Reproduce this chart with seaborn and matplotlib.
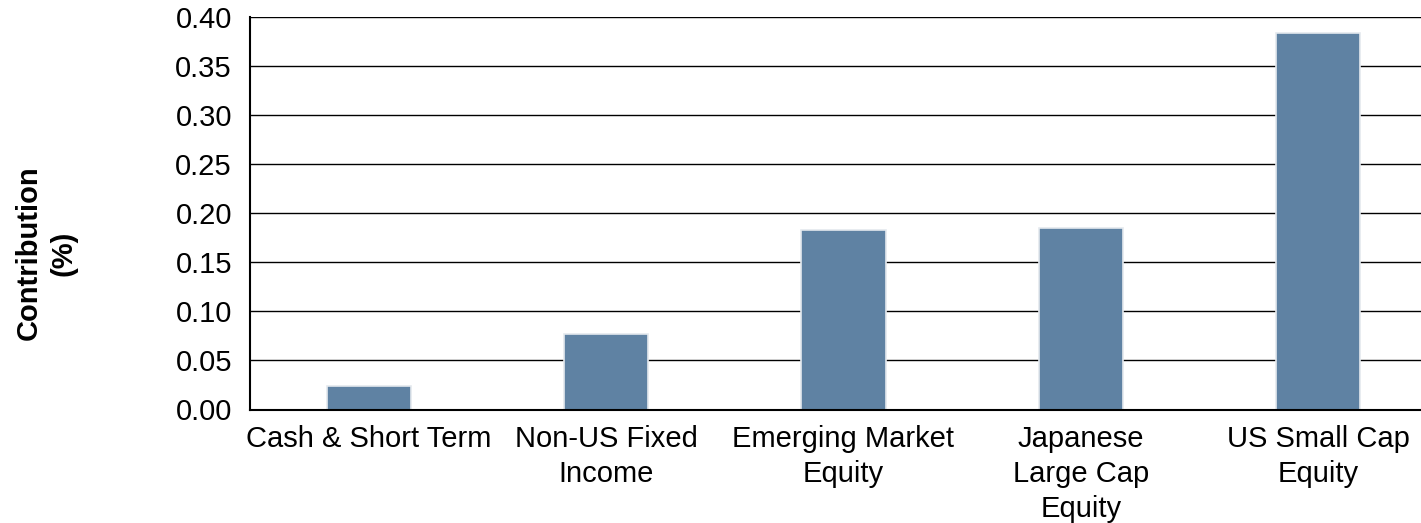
import matplotlib
matplotlib.use("Agg")
import matplotlib.pyplot as plt
import seaborn as sns
import pandas as pd

categories = ["Cash & Short Term", "Non-US Fixed\nIncome", "Emerging Market\nEquity",
              "Japanese\nLarge Cap\nEquity", "US Small Cap\nEquity"]
contribution = [0.024, 0.077, 0.183, 0.185, 0.384]
yticks = [0.00, 0.05, 0.10, 0.15, 0.20, 0.25, 0.30, 0.35, 0.40]
ytick_labels = ["0.00", "0.05", "0.10", "0.15", "0.20", "0.25", "0.30", "0.35", "0.40"]

sns.set_theme(style="white")
plt.rcParams["font.family"] = ["Liberation Sans", "DejaVu Sans"]

df = pd.DataFrame({"category": categories, "value": contribution})

fig = plt.figure(figsize=(14.21, 5.23), dpi=100)
ax = fig.add_axes([250 / 1421, 1 - 409.5 / 523, (1437 - 250) / 1421, (409.5 - 17) / 523])

sns.barplot(data=df, x="category", y="value", ax=ax, color="#5F82A3",
            saturation=1, width=0.355, edgecolor="#E4E9EE", linewidth=1.2)

ax.set_ylim(0, 0.40)
ax.set_yticks(yticks)
ax.set_yticklabels(ytick_labels)
ax.set_axisbelow(True)
ax.yaxis.grid(True, color="black", linewidth=1.0)
ax.xaxis.grid(False)

for s in ["top", "right"]:
    ax.spines[s].set_visible(False)
for s in ["left", "bottom"]:
    ax.spines[s].set_color("black")
    ax.spines[s].set_linewidth(1.5)

ax.tick_params(axis="y", length=0, pad=13, labelsize=21, labelcolor="black")
ax.tick_params(axis="x", length=0, pad=11, labelsize=21, labelcolor="black")
for lbl in ax.get_xticklabels():
    lbl.set_linespacing(1.33)

ax.set_xlabel("")
ax.set_ylabel("")
fig.text(46 / 1421, 1 - 253 / 523, "Contribution\n(%)", rotation=90, ha="center", va="center",
         fontsize=21, fontweight="bold", color="black", linespacing=1.3)

fig.savefig("out.png", dpi=100, facecolor="white")
